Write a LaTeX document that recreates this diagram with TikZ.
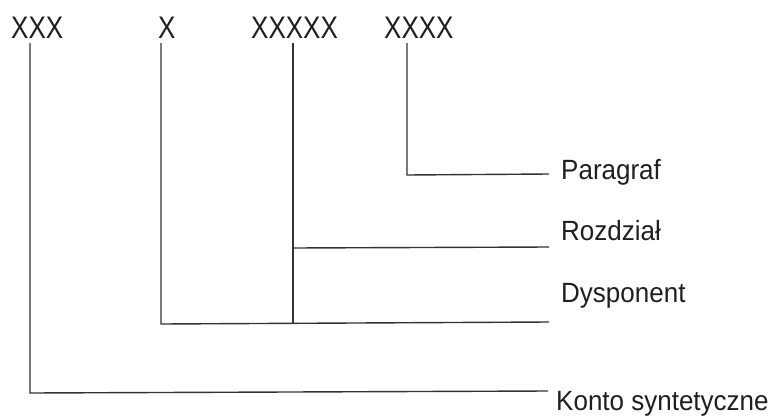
\documentclass[tikz,border=0pt]{standalone}
\usepackage{fontspec}
\setmainfont{Liberation Sans}
\newcommand{\tallA}[1]{\scalebox{1}[1.2]{#1}}
\newcommand{\tallB}[1]{\scalebox{1}[1.07]{#1}}
\begin{document}
\begin{tikzpicture}[x=1pt,y=-1pt,
  lab/.style={inner sep=0pt, font=\fontsize{26}{30}\selectfont, text=black!88},
  conn/.style={line width=1.4pt, draw=black!80}]
\useasboundingbox (0,0) rectangle (777,418);
% top codes
\node[lab, anchor=base west] (xxx) at (11,38) {\tallA{XXX}};
\node[lab, anchor=base west] (x) at (158,38) {\tallA{X}};
\node[lab, anchor=base west] (xxxxx) at (251,38) {\tallA{XXXXX}};
\node[lab, anchor=base west] (xxxx) at (384,38) {\tallA{XXXX}};
% right labels
\node[lab, anchor=base west] (par) at (561,179) {\tallB{Paragraf}};
\node[lab, anchor=base west] (roz) at (561,240) {\tallB{Rozdział}};
\node[lab, anchor=base west] (dys) at (561,302) {\tallB{Dysponent}};
\node[lab, anchor=base west] (kon) at (556,410) {\tallB{Konto syntetyczne}};
% corners and ends
\coordinate (k1) at (30,393);
\coordinate (e1) at (548,391);
\coordinate (k2) at (161,324);
\coordinate (e2) at (549,322);
\coordinate (k3) at (293,248);
\coordinate (e3) at (549,247);
\coordinate (k4) at (407,175);
\coordinate (e4) at (549,174);
% connectors
\draw[conn] ([yshift=-5pt]xxx.south -| k1) -- (k1) -- (e1);
\draw[conn] ([yshift=-5pt]x.south -| k2) -- (k2) -- (e2);
\draw[conn] ([yshift=-5pt]xxxxx.south -| k3) -- (k3 |- k2);
\draw[conn] (k3) -- (e3);
\draw[conn] ([yshift=-5pt]xxxx.south -| k4) -- (k4) -- (e4);
\end{tikzpicture}
\end{document}
